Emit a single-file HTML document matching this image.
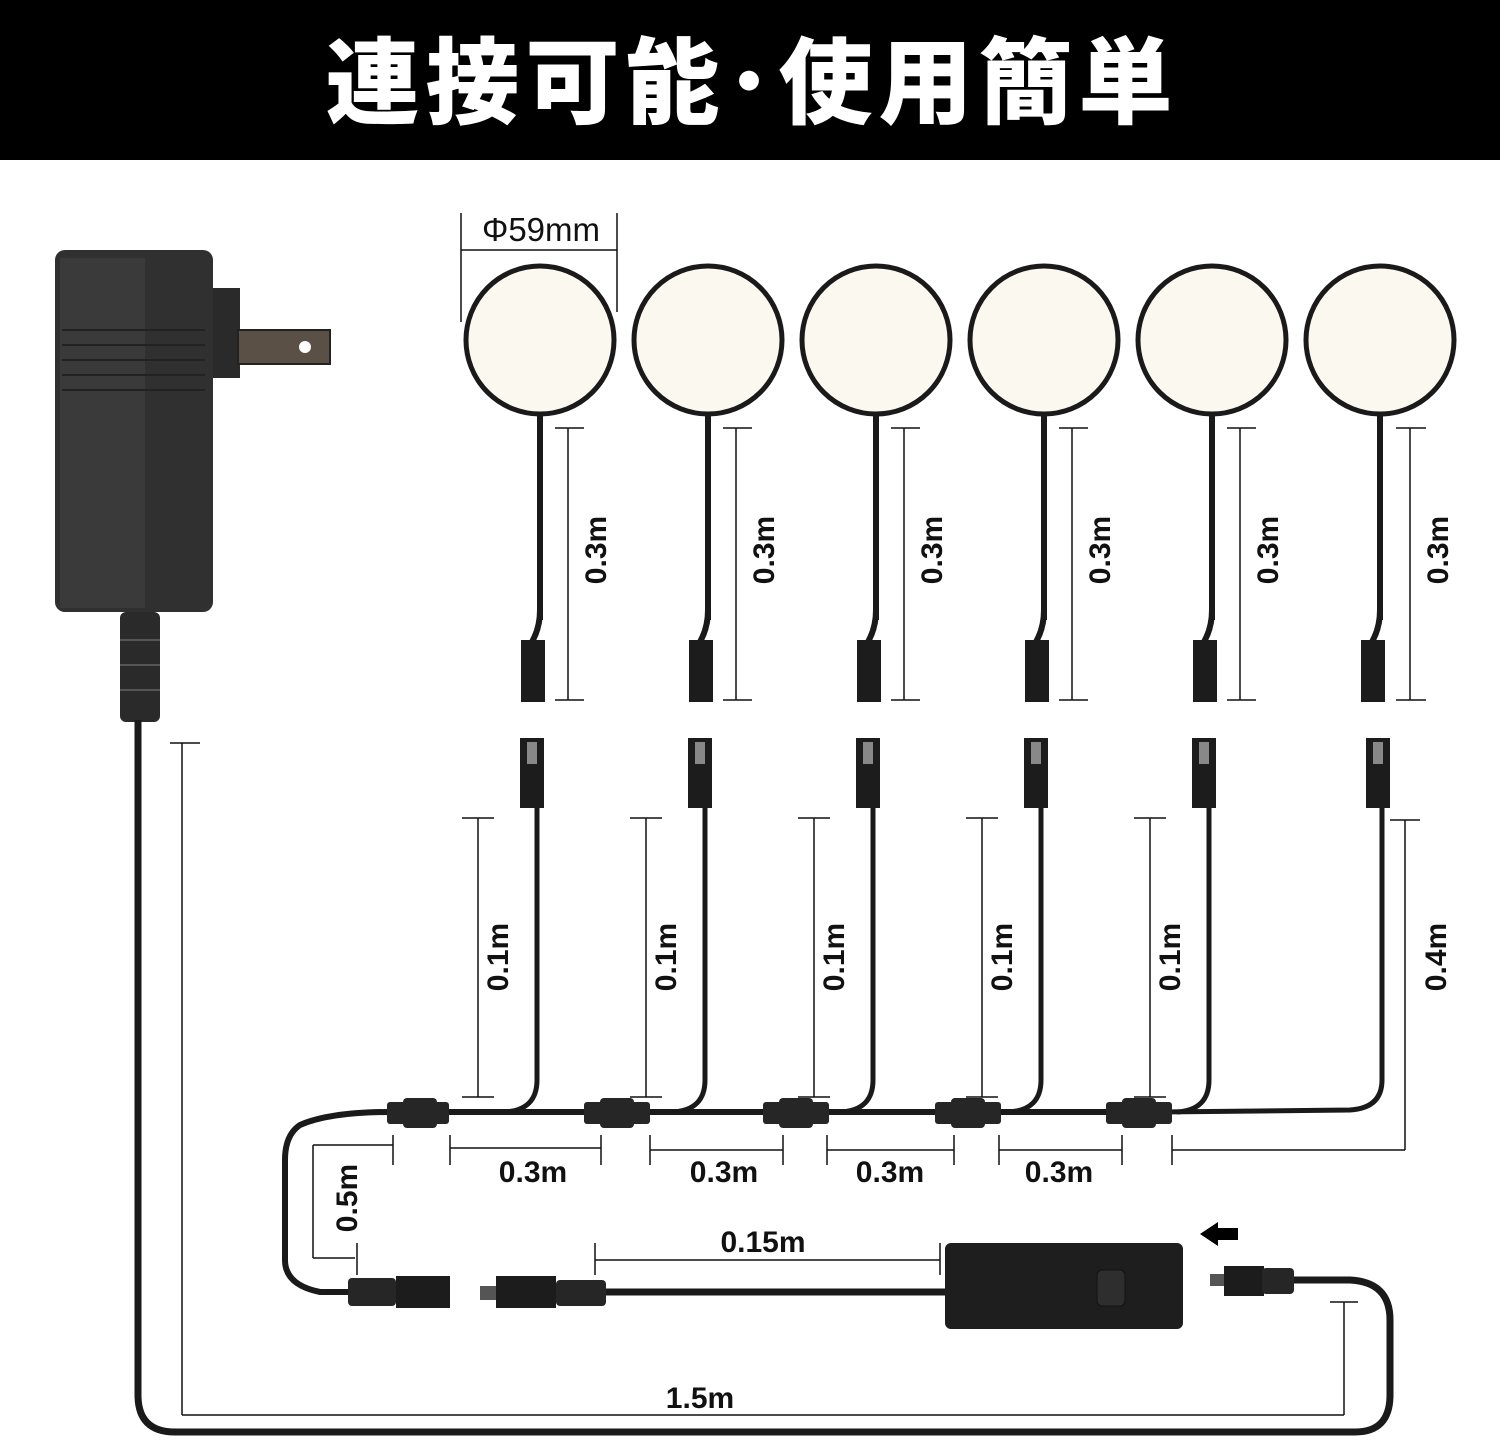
<!DOCTYPE html>
<html><head><meta charset="utf-8"><style>
body{margin:0;width:1500px;height:1444px;background:#fff;overflow:hidden}
svg{display:block}
text{font-family:"Liberation Sans","Noto Sans CJK JP",sans-serif;font-weight:bold;fill:#111}
</style></head><body>
<svg width="1500" height="1444" viewBox="0 0 1500 1444" xmlns="http://www.w3.org/2000/svg">
<rect x="0" y="0" width="1500" height="160" fill="#000"/>
<text x="752" y="116" text-anchor="middle" font-size="94" letter-spacing="6" style="fill:#fff;font-family:'Noto Sans CJK JP',sans-serif;font-weight:900">連接可能･使用簡単</text>

<!-- adapter -->
<rect x="210" y="288" width="30" height="90" fill="#2a2a2a"/>
<rect x="238" y="330" width="92" height="34" fill="#5a5046" stroke="#222" stroke-width="2"/>
<circle cx="305" cy="347" r="6" fill="#fff"/>
<rect x="55" y="250" width="158" height="362" rx="10" fill="#303030"/>
<rect x="60" y="258" width="85" height="350" fill="#3a3a3a"/>
<g stroke="#222" stroke-width="2">
<line x1="62" y1="330" x2="205" y2="330"/><line x1="62" y1="345" x2="205" y2="345"/><line x1="62" y1="360" x2="205" y2="360"/><line x1="62" y1="375" x2="205" y2="375"/><line x1="62" y1="390" x2="205" y2="390"/>
</g>
<rect x="120" y="612" width="40" height="110" rx="6" fill="#2a2a2a"/>
<g stroke="#555" stroke-width="2"><line x1="120" y1="640" x2="160" y2="640"/><line x1="120" y1="665" x2="160" y2="665"/><line x1="120" y1="690" x2="160" y2="690"/></g>

<path d="M138 720 L138 1395 Q138 1432 175 1432 L1355 1432 Q1390 1432 1390 1395 L1390 1320 Q1390 1282 1350 1280 L1290 1280" fill="none" stroke="#1a1a1a" stroke-width="7"/>

<g stroke="#111" stroke-width="1.5"><line x1="461" y1="213" x2="461" y2="322"/><line x1="617" y1="213" x2="617" y2="312"/><line x1="461" y1="250" x2="617" y2="250"/></g>
<text x="541" y="241" text-anchor="middle" font-size="33" style="font-weight:normal">Φ59mm</text>

<g>
<g id="L">
<circle cx="540" cy="340" r="74" fill="#fbf8f0" stroke="#1a1a1a" stroke-width="5"/>
<line x1="540" y1="414" x2="540" y2="620" stroke="#1a1a1a" stroke-width="6"/>
<path d="M540 610 Q540 630 530 645" stroke="#1a1a1a" stroke-width="6" fill="none"/>
<rect x="521" y="640" width="24" height="62" fill="#1c1c1c"/>
<g stroke="#111" stroke-width="1.5"><line x1="568" y1="428" x2="568" y2="700"/><line x1="555" y1="428" x2="584" y2="428"/><line x1="555" y1="700" x2="584" y2="700"/></g>
<text transform="translate(606 550) rotate(-90)" text-anchor="middle" font-size="30">0.3m</text>
<rect x="520" y="738" width="24" height="70" fill="#1c1c1c"/><rect x="527" y="742" width="10" height="22" fill="#888"/>
<line x1="537" y1="808" x2="537" y2="1080" stroke="#1a1a1a" stroke-width="5"/>
<path d="M537 1080 Q537 1110 505 1112" stroke="#1a1a1a" stroke-width="5" fill="none"/>
<g stroke="#111" stroke-width="1.5"><line x1="478" y1="818" x2="478" y2="1097"/><line x1="462" y1="818" x2="494" y2="818"/><line x1="462" y1="1097" x2="494" y2="1097"/></g>
<text transform="translate(508 957) rotate(-90)" text-anchor="middle" font-size="30">0.1m</text>
</g>
<use href="#L" transform="translate(168 0)"/>
<use href="#L" transform="translate(336 0)"/>
<use href="#L" transform="translate(504 0)"/>
<use href="#L" transform="translate(672 0)"/>
</g>
<circle cx="1380" cy="340" r="74" fill="#fbf8f0" stroke="#1a1a1a" stroke-width="5"/>
<line x1="1380" y1="414" x2="1380" y2="620" stroke="#1a1a1a" stroke-width="6"/>
<path d="M1380 610 Q1380 630 1370 645" stroke="#1a1a1a" stroke-width="6" fill="none"/>
<rect x="1361" y="640" width="24" height="62" fill="#1c1c1c"/>
<g stroke="#111" stroke-width="1.5"><line x1="1410" y1="428" x2="1410" y2="700"/><line x1="1396" y1="428" x2="1426" y2="428"/><line x1="1396" y1="700" x2="1426" y2="700"/></g>
<text transform="translate(1448 550) rotate(-90)" text-anchor="middle" font-size="30">0.3m</text>
<rect x="1366" y="738" width="24" height="70" fill="#1c1c1c"/><rect x="1373" y="742" width="10" height="22" fill="#888"/>
<path d="M1382 808 L1382 1080 Q1382 1108 1350 1110 L1160 1112" stroke="#1a1a1a" stroke-width="5" fill="none"/>
<g stroke="#111" stroke-width="1.5"><line x1="1405" y1="820" x2="1405" y2="1150"/><line x1="1390" y1="820" x2="1420" y2="820"/><line x1="1172" y1="1150" x2="1405" y2="1150"/></g>
<text transform="translate(1446 957) rotate(-90)" text-anchor="middle" font-size="30">0.4m</text>

<path d="M1160 1112 L390 1112 Q330 1112 300 1125 Q285 1135 285 1160 L285 1260 Q285 1285 320 1292 L355 1292" fill="none" stroke="#1a1a1a" stroke-width="6"/>
<g fill="#262626">
<rect x="403" y="1098" width="34" height="30" rx="4"/><rect x="600" y="1098" width="34" height="30" rx="4"/><rect x="779" y="1098" width="34" height="30" rx="4"/><rect x="951" y="1098" width="34" height="30" rx="4"/><rect x="1122" y="1098" width="34" height="30" rx="4"/>
<rect x="387" y="1102" width="62" height="22" rx="3"/><rect x="584" y="1102" width="66" height="22" rx="3"/><rect x="763" y="1102" width="66" height="22" rx="3"/><rect x="935" y="1102" width="66" height="22" rx="3"/><rect x="1106" y="1102" width="66" height="22" rx="3"/>
</g>
<g stroke="#111" stroke-width="1.5">
<line x1="393" y1="1135" x2="393" y2="1165"/><line x1="450" y1="1135" x2="450" y2="1165"/><line x1="450" y1="1148" x2="601" y2="1148"/><line x1="601" y1="1135" x2="601" y2="1165"/>
<line x1="650" y1="1135" x2="650" y2="1165"/><line x1="650" y1="1150" x2="783" y2="1150"/><line x1="783" y1="1135" x2="783" y2="1165"/>
<line x1="827" y1="1135" x2="827" y2="1165"/><line x1="827" y1="1150" x2="954" y2="1150"/><line x1="954" y1="1135" x2="954" y2="1165"/>
<line x1="999" y1="1135" x2="999" y2="1165"/><line x1="999" y1="1150" x2="1122" y2="1150"/><line x1="1122" y1="1135" x2="1122" y2="1165"/>
<line x1="1172" y1="1135" x2="1172" y2="1165"/>
<line x1="313" y1="1145" x2="393" y2="1145"/><line x1="313" y1="1145" x2="313" y2="1258"/><line x1="313" y1="1258" x2="355" y2="1258"/><line x1="357" y1="1243" x2="357" y2="1275"/>
<line x1="595" y1="1243" x2="595" y2="1275"/><line x1="595" y1="1260" x2="940" y2="1260"/><line x1="940" y1="1243" x2="940" y2="1275"/>
<line x1="182" y1="743" x2="182" y2="1415"/><line x1="170" y1="743" x2="200" y2="743"/><line x1="182" y1="1415" x2="1344" y2="1415"/><line x1="1344" y1="1302" x2="1344" y2="1415"/><line x1="1330" y1="1302" x2="1358" y2="1302"/>
</g>
<text x="533" y="1182" text-anchor="middle" font-size="30">0.3m</text>
<text x="724" y="1182" text-anchor="middle" font-size="30">0.3m</text>
<text x="890" y="1182" text-anchor="middle" font-size="30">0.3m</text>
<text x="1059" y="1182" text-anchor="middle" font-size="30">0.3m</text>
<text transform="translate(357 1198) rotate(-90)" text-anchor="middle" font-size="30">0.5m</text>
<text x="763" y="1252" text-anchor="middle" font-size="30">0.15m</text>
<text x="700" y="1408" text-anchor="middle" font-size="30">1.5m</text>

<rect x="348" y="1278" width="48" height="28" rx="4" fill="#262626"/>
<rect x="396" y="1276" width="54" height="32" fill="#1c1c1c"/>
<rect x="480" y="1286" width="16" height="14" fill="#555"/>
<rect x="496" y="1276" width="60" height="32" fill="#1c1c1c"/>
<rect x="556" y="1280" width="50" height="26" rx="4" fill="#262626"/>
<line x1="606" y1="1292" x2="948" y2="1292" stroke="#1a1a1a" stroke-width="7"/>
<rect x="945" y="1243" width="238" height="86" rx="6" fill="#1e1e1e"/>
<rect x="1097" y="1270" width="28" height="36" rx="5" fill="#2e2e2e" stroke="#111"/>
<rect x="1210" y="1274" width="14" height="12" fill="#555"/>
<rect x="1224" y="1266" width="40" height="30" fill="#1c1c1c"/>
<rect x="1262" y="1268" width="32" height="26" rx="4" fill="#262626"/>
<path d="M1200 1234 L1218 1222 L1218 1228 L1238 1228 L1238 1240 L1218 1240 L1218 1246 Z" fill="#000"/>
</svg>
</body></html>
